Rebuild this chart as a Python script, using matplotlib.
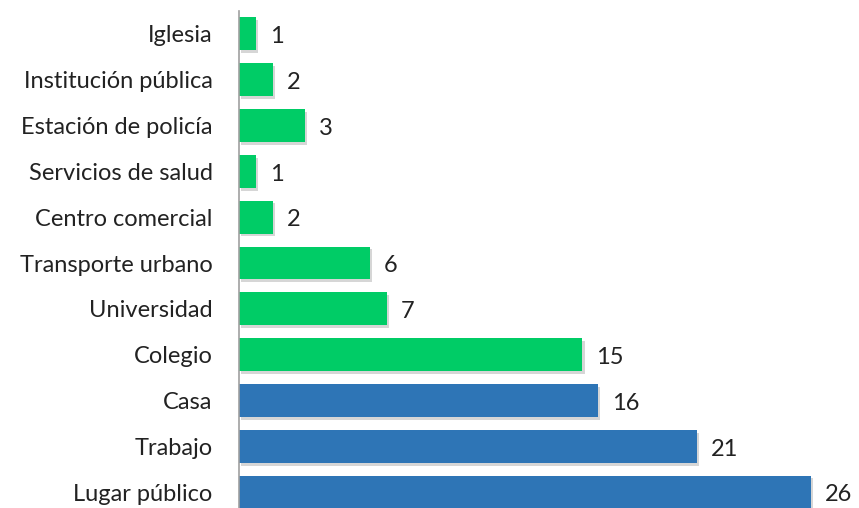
import matplotlib.pyplot as plt
import matplotlib.patheffects as pe

categories = ["Iglesia", "Institución pública", "Estación de policía",
              "Servicios de salud", "Centro comercial", "Transporte urbano",
              "Universidad", "Colegio", "Casa", "Trabajo", "Lugar público"]
values = [0.77, 1.53, 3.0, 0.77, 1.53, 5.96, 6.72, 15.62, 16.34, 20.83, 26.0]
labels = ["1", "2", "3", "1", "2", "6", "7", "15", "16", "21", "26"]
groups = ["g"] * 8 + ["b"] * 3

green = "#00CC66"
blue = "#2E75B6"

plt.rcParams["font.family"] = ["Lato", "DejaVu Sans"]

fig = plt.figure(figsize=(8.59, 5.08), dpi=100)
ax = fig.add_axes([239 / 859, -7 / 508, 620 / 859, 504 / 508])

ys = list(range(len(categories)))
colors = [green if g == "g" else blue for g in groups]
bars = ax.barh(ys, values, height=0.72, color=colors, zorder=2)
for b in bars:
    b.set_path_effects([pe.SimplePatchShadow(offset=(1.5, -2), shadow_rgbFace="#999999", alpha=0.4),
                        pe.Normal()])

for y, v, lab in zip(ys, values, labels):
    ax.annotate(lab, (v, y), xytext=(10, -2), textcoords="offset points",
                ha="left", va="center", fontsize=17, color="#222222")

ax.set_xlim(0, 28.2)
ax.set_ylim(len(categories) - 0.5, -0.5)
ax.set_yticks(ys)
ax.set_yticklabels(categories, fontsize=17, color="#222222")
ax.tick_params(axis="y", length=0, pad=19)
ax.set_xticks([])

for side in ["top", "right", "bottom"]:
    ax.spines[side].set_visible(False)
ax.spines["left"].set_color("#A0A0A0")
ax.spines["left"].set_linewidth(1.2)

plt.savefig("out.png", dpi=100)
plt.close()
